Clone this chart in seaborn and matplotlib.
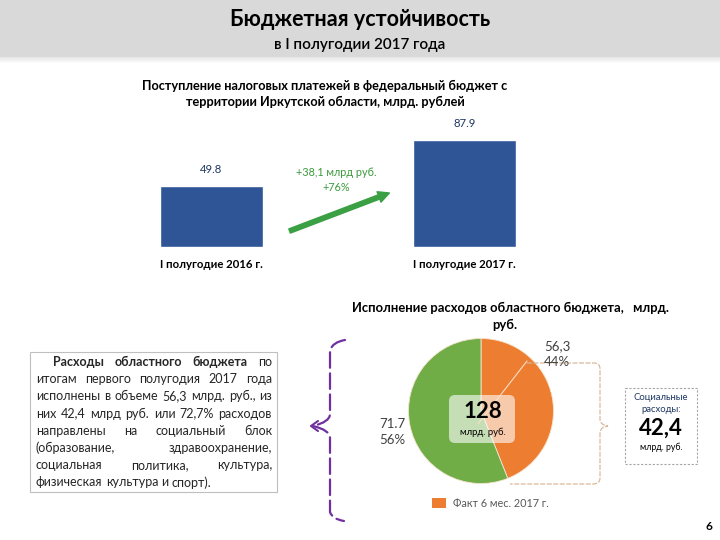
import matplotlib
matplotlib.use("Agg")
import matplotlib.pyplot as plt
import seaborn as sns
import numpy as np
import pandas as pd
from matplotlib.patches import Rectangle, FancyBboxPatch, FancyArrowPatch, PathPatch
from matplotlib.path import Path

# ---------------- data ----------------
bar_categories = ["I полугодие 2016 г.", "I полугодие 2017 г."]
bar_values = [49.8, 87.9]
bar_value_labels = ["49.8", "87.9"]

pie_values = [56.3, 71.7]
pie_value_labels = ["56,3\n44%", "71.7\n56%"]
pie_total_label = "128"
social_value_label = "42,4"

title = "Бюджетная устойчивость"
subtitle = "в I полугодии 2017 года"
bar_title = "Поступление налоговых платежей в федеральный бюджет с\nтерритории Иркутской области, млрд. рублей"
pie_title_1 = "Исполнение расходов областного бюджета,   млрд."
pie_title_2 = "руб."
growth_text = "+38,1 млрд руб.\n+76%"
legend_text = "Факт 6 мес. 2017 г."
text_lines = [
    "Расходы областного бюджета по",
    "итогам первого полугодия 2017 года",
    "исполнены в объеме 56,3 млрд. руб., из",
    "них 42,4 млрд руб. или 72,7% расходов",
    "направлены на социальный блок",
    "(образование, здравоохранение,",
    "социальная политика, культура,",
    "физическая культура и спорт).",
]

# ---------------- style ----------------
sns.set_theme(style="white")
plt.rcParams['font.family'] = ['Lato', 'Noto Sans', 'DejaVu Sans']

BLUE = "#2f5597"
ORANGE = "#ed7d31"
GREEN = "#70ad47"
TXT = "#262626"

W, H = 720, 540
fig = plt.figure(figsize=(7.2, 5.4), dpi=100)
fig.patch.set_facecolor("white")

# overlay axes in pixel coordinates
ov = fig.add_axes([0, 0, 1, 1], zorder=0)
ov.set_xlim(0, W)
ov.set_ylim(H, 0)
ov.axis("off")

# header band + soft shadow
ov.add_patch(Rectangle((0, 0), W, 57, facecolor="#d9d9d9", edgecolor="none"))
for k in range(6):
    ov.add_patch(Rectangle((0, 57 + k), W, 1, facecolor="#bfbfbf", alpha=0.35 * (1 - k / 6), edgecolor="none"))
ov.text(360, 19, title, ha="center", va="center", fontsize=15.5, fontweight="bold", color="black")
ov.text(360, 45, subtitle, ha="center", va="center", fontsize=11, fontweight="semibold", color="black")

# bar chart title
ov.text(325, 94, bar_title, ha="center", va="center", fontsize=9.2, fontweight="bold",
        color="black", linespacing=1.3)

# ---------------- bar chart ----------------
px_per_unit = 107 / 87.9
bottom_px = 247
ymax = 100
top_px = bottom_px - ymax * px_per_unit
axb = fig.add_axes([85 / W, (H - bottom_px) / H, 506 / W, (bottom_px - top_px) / H], zorder=1)
df = pd.DataFrame({"cat": bar_categories, "val": bar_values})
sns.barplot(data=df, x="cat", y="val", color=BLUE, saturation=1, width=0.407, ax=axb)
axb.set_xlim(-0.5, 1.5)
axb.set_ylim(0, ymax)
axb.patch.set_alpha(0)
for s in axb.spines.values():
    s.set_visible(False)
axb.set_yticks([])
axb.set_xlabel("")
axb.set_ylabel("")
axb.tick_params(axis="x", length=0, pad=9)
for lab in axb.get_xticklabels():
    lab.set_fontsize(8.2)
    lab.set_fontweight("bold")
    lab.set_color("black")
axb.bar_label(axb.containers[0], labels=bar_value_labels, padding=8, fontsize=8.2, color="#1f3864")

# growth arrow
ov.add_patch(FancyArrowPatch((287, 232), (392, 192), arrowstyle="simple,head_length=8,head_width=8,tail_width=3.2",
                             color="#3aa043", mutation_scale=1, zorder=3))
ov.text(336, 180, growth_text, ha="center", va="center", fontsize=7.8, color="#3a9a3a", linespacing=1.45)

# ---------------- pie chart ----------------
cx, cy, r = 481, 411, 72.5
axp = fig.add_axes([(cx - r) / W, (H - cy - r) / H, 2 * r / W, 2 * r / H], zorder=1)
axp.pie(pie_values, colors=[ORANGE, GREEN], startangle=90, counterclock=False,
        wedgeprops=dict(edgecolor="#f4e4d0", linewidth=0.6))
axp.set_xlim(-1, 1)
axp.set_ylim(-1, 1)
axp.axis("off")

ov2 = fig.add_axes([0, 0, 1, 1], zorder=2)
ov2.set_xlim(0, W)
ov2.set_ylim(H, 0)
ov2.axis("off")

# leader line
ov2.plot([478, 527], [424, 361], color="#fbe0c8", lw=0.8)
# centre box
ov2.add_patch(FancyBboxPatch((451, 397), 62, 44, boxstyle="round,pad=2,rounding_size=6",
                             facecolor="white", alpha=0.6, edgecolor="none"))
ov2.text(483, 412, pie_total_label, ha="center", va="center", fontsize=16, fontweight="bold", color="black")
ov2.text(483, 432, "млрд. руб.", ha="center", va="center", fontsize=6.8, color="black")

ov2.text(557, 354, pie_value_labels[0], ha="center", va="center", fontsize=9.5, color="#404040", linespacing=1.3)
ov2.text(392, 432, pie_value_labels[1], ha="center", va="center", fontsize=9.5, color="#404040", linespacing=1.3)

ov2.text(511, 308, pie_title_1, ha="center", va="center", fontsize=9.4, fontweight="bold", color="black")
ov2.text(505, 325, pie_title_2, ha="center", va="center", fontsize=9.4, fontweight="bold", color="black")

# legend
ov2.add_patch(Rectangle((432, 498), 14, 10, facecolor=ORANGE, edgecolor="none"))
ov2.text(453, 503.5, legend_text, ha="left", va="center", fontsize=7.8, color="#595959")

# right brace (tan)
verts = [(527, 363), (594, 363),
         (600, 363), (600, 369),
         (600, 419),
         (600, 425), (608, 426),
         (600, 427), (600, 433),
         (600, 478),
         (600, 484), (593, 484),
         (510, 484)]
codes = [Path.MOVETO, Path.LINETO,
         Path.CURVE3, Path.CURVE3,
         Path.LINETO,
         Path.CURVE3, Path.CURVE3,
         Path.CURVE3, Path.CURVE3,
         Path.LINETO,
         Path.CURVE3, Path.CURVE3,
         Path.LINETO]
ov2.add_patch(PathPatch(Path(verts, codes), facecolor="none", edgecolor="#d9b99a", lw=0.9,
                        linestyle=(0, (4, 1.2))))

# social box
ov2.add_patch(Rectangle((625, 388), 72, 76, facecolor="white", edgecolor="#a6a6a6", lw=0.8, linestyle=(0, (2, 1.5))))
ov2.text(661, 397, "Социальные", ha="center", va="center", fontsize=6.8, color="#1f3864")
ov2.text(661, 409, "расходы:", ha="center", va="center", fontsize=6.8, color="#1f3864")
ov2.text(661, 428, social_value_label, ha="center", va="center", fontsize=16, fontweight="bold", color="black")
ov2.text(661, 447, "млрд. руб.", ha="center", va="center", fontsize=6.3, color="black")

# purple brace (left)
pverts = [(345, 340), (333, 342), (330, 350),
          (330, 414),
          (330, 422), (313, 426),
          (330, 430), (330, 438),
          (330, 512),
          (332, 519), (344, 521)]
pcodes = [Path.MOVETO, Path.CURVE3, Path.CURVE3,
          Path.LINETO,
          Path.CURVE3, Path.CURVE3,
          Path.CURVE3, Path.CURVE3,
          Path.LINETO,
          Path.CURVE3, Path.CURVE3]
ov2.add_patch(PathPatch(Path(pverts, pcodes), facecolor="none", edgecolor="#7030a0", lw=1.6,
                        linestyle=(0, (7, 2.5)), capstyle="round"))
ov2.plot([318, 311, 318], [421, 426, 431], color="#7030a0", lw=1.5, solid_capstyle="round")

# ---------------- justified text box ----------------
ov2.add_patch(Rectangle((30, 352), 247, 140, facecolor="white", edgecolor="#bfbfbf", lw=0.8))
fig.canvas.draw()
renderer = fig.canvas.get_renderer()
x_left, x_right, x_indent = 36, 272, 53
y0, dy = 362, 17.2
for i, line in enumerate(text_lines):
    words = line.split()
    y = y0 + i * dy
    xs = x_indent if i == 0 else x_left
    texts = []
    for j, w in enumerate(words):
        bold = (i == 0 and j < 3)
        t = ov2.text(0, y, w, fontsize=9, fontweight="bold" if bold else "normal",
                     va="center", ha="left", color=TXT)
        texts.append(t)
    widths = [t.get_window_extent(renderer).width for t in texts]
    if i == len(text_lines) - 1 or len(words) < 2:
        gap = 3.2
    else:
        gap = (x_right - xs - sum(widths)) / (len(words) - 1)
    x = xs
    for t, w in zip(texts, widths):
        t.set_x(x)
        x += w + gap

# page number
ov2.text(709, 527, "6", ha="center", va="center", fontsize=8.5, fontweight="bold", color="black")

fig.savefig("out.png", dpi=100)
